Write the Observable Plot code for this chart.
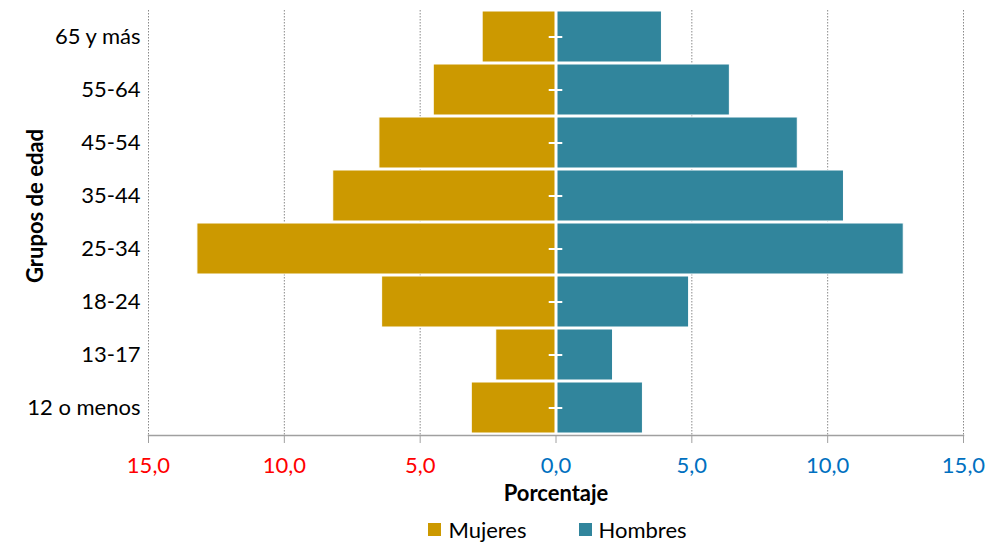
<!DOCTYPE html>
<html>
<head>
<meta charset="utf-8">
<script src="https://cdn.jsdelivr.net/npm/d3@7"></script>
<script src="https://cdn.jsdelivr.net/npm/@observablehq/plot@0.6"></script>
<style>
  html, body { margin: 0; padding: 0; background: #fff; }
  body { width: 989px; height: 544px; overflow: hidden; font-family: Lato, "Open Sans", sans-serif; }
  #legend { display: flex; justify-content: center; align-items: center; gap: 52px; height: 29px; font-size: 22px; color: #000; margin-left: 126px; }
  #legend span.sw { display: inline-block; width: 13px; height: 13px; margin-right: 7px; vertical-align: middle; }
  #legend .item { display: flex; align-items: center; }
</style>
</head>
<body>
<div id="chart"></div>
<div id="legend"></div>
<script>
const groups = ["65 y más", "55-64", "45-54", "35-44", "25-34", "18-24", "13-17", "12 o menos"];
const mujeres = [2.7, 4.5, 6.5, 8.2, 13.2, 6.4, 2.2, 3.1];
const hombres = [3.9, 6.4, 8.9, 10.6, 12.8, 4.9, 2.1, 3.2];
const seriesNames = ["Mujeres", "Hombres"];
const seriesColors = ["#CC9900", "#31859C"];
const xTicks = [-15, -10, -5, 0, 5, 10, 15];

const rows = [];
groups.forEach((g, i) => {
  rows.push({group: g, sexo: "Mujeres", value: -mujeres[i]});
  rows.push({group: g, sexo: "Hombres", value: hombres[i]});
});
const fmt = d => Math.abs(d).toFixed(1).replace(".", ",");

const plot = Plot.plot({
  width: 989,
  height: 515,
  marginLeft: 148,
  marginRight: 26,
  marginTop: 10,
  marginBottom: 80,
  style: {fontFamily: "Lato, 'Open Sans', sans-serif", fontSize: "22px", color: "#000"},
  x: {domain: [-15, 15], ticks: xTicks},
  y: {domain: groups, paddingInner: 0.03, paddingOuter: 0.0},
  color: {domain: seriesNames, range: seriesColors},
  marks: [
    Plot.gridX(xTicks, {stroke: "#8a8a8a", strokeOpacity: 1, strokeDasharray: "1.5,1.5"}),
    Plot.barX(rows, {y: "group", x: "value", fill: "sexo", stroke: "#fff", strokeWidth: 1}),
    Plot.ruleX([0], {stroke: "#fff", strokeWidth: 3}),
    Plot.ruleY(groups, {y: d => d, x1: -0.25, x2: 0.25, stroke: "#fff", strokeWidth: 2}),
    Plot.frame({anchor: "bottom", stroke: "#a0a0a0", strokeWidth: 1.5}),
    Plot.axisX({ticks: xTicks, tickSize: 8, stroke: "#a0a0a0", tickFormat: () => "", label: null}),
    Plot.axisX({ticks: [-15, -10, -5], tickSize: 0, tickPadding: 22, tickFormat: fmt, fill: "#FF0000", label: null}),
    Plot.axisX({ticks: [0, 5, 10, 15], tickSize: 0, tickPadding: 22, tickFormat: fmt, fill: "#0070C0", label: null}),
    Plot.axisY({tickSize: 0, tickPadding: 8, label: null}),
    Plot.text(["Porcentaje"], {frameAnchor: "bottom", dy: 65, fontWeight: "bold", fill: "#000"}),
    Plot.text(["Grupos de edad"], {frameAnchor: "left", textAnchor: "middle", dx: -113, dy: -17, rotate: -90, fontWeight: "bold", fill: "#000"})
  ]
});
document.getElementById("chart").appendChild(plot);

const legend = document.getElementById("legend");
seriesNames.forEach((n, i) => {
  const item = document.createElement("div");
  item.className = "item";
  const sw = document.createElement("span");
  sw.className = "sw";
  sw.style.background = seriesColors[i];
  item.appendChild(sw);
  item.appendChild(document.createTextNode(n));
  legend.appendChild(item);
});
</script>
</body>
</html>
